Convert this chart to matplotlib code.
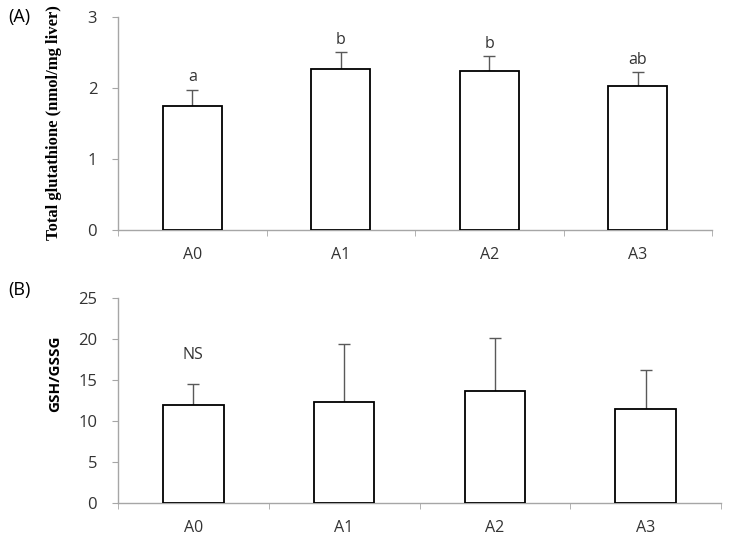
import numpy as np
import matplotlib
matplotlib.use('Agg')
import matplotlib.pyplot as plt
from matplotlib.ticker import FixedLocator

plt.rcParams['font.family'] = ['Open Sans', 'DejaVu Sans']

groups = ['A0', 'A1', 'A2', 'A3']

# Panel A: total glutathione
total_gsh = [1.75, 2.27, 2.24, 2.03]
total_gsh_sd = [0.23, 0.24, 0.21, 0.20]
total_gsh_letters = ['a', 'b', 'b', 'ab']

# Panel B: GSH/GSSG ratio
ratio = [11.9, 12.3, 13.6, 11.5]
ratio_sd = [2.6, 7.1, 6.5, 4.7]

W, H = 729, 543
TEXT = '#333333'
AXIS = '#a6a6a6'


def px_axes(fig, left, right, top, bottom):
    return fig.add_axes([left / W, 1 - bottom / H, (right - left) / W, (bottom - top) / H])


def bar_panel(ax, values, sd, ymax, ystep):
    x = np.arange(len(groups))
    ax.bar(x, values, width=0.40, color='white', edgecolor='black', linewidth=1.3, zorder=3)
    ax.errorbar(x, values, yerr=[np.zeros(len(sd)), sd], fmt='none', ecolor='#595959',
                elinewidth=1.0, capsize=4, capthick=1.0, zorder=2)
    ax.set_xlim(-0.5, len(groups) - 0.5)
    ax.set_ylim(0, ymax)
    ax.set_yticks(np.arange(0, ymax + ystep / 2, ystep))
    ax.set_xticks(x)
    ax.set_xticklabels(groups)
    ax.xaxis.set_minor_locator(FixedLocator(np.arange(-0.5, len(groups), 1.0)))
    ax.tick_params(axis='x', which='major', length=0, pad=12, labelsize=11.5, labelcolor=TEXT)
    ax.tick_params(axis='x', which='minor', length=4, color=AXIS, direction='out')
    ax.tick_params(axis='y', length=4, color=AXIS, pad=11, labelsize=12, labelcolor=TEXT)
    for side in ['top', 'right']:
        ax.spines[side].set_visible(False)
    for side in ['left', 'bottom']:
        ax.spines[side].set_color(AXIS)
        ax.spines[side].set_linewidth(1.0)
    return x


fig = plt.figure(figsize=(W / 100, H / 100), dpi=100)

# (A)
ax1 = px_axes(fig, 118, 712, 17.3, 230)
x = bar_panel(ax1, total_gsh, total_gsh_sd, 3, 1)
for xi, v, s, lab in zip(x, total_gsh, total_gsh_sd, total_gsh_letters):
    ax1.annotate(lab, (xi, v + s), xytext=(0, 3), textcoords='offset points',
                 ha='center', va='bottom', fontsize=11.5, color=TEXT)
ax1.set_ylabel('Total glutathione (nmol/mg liver)', family='Liberation Serif',
               fontweight='bold', fontsize=12, color='black')
ax1.yaxis.set_label_coords(-0.094, 0.505)
fig.text(8 / W, 1 - 17 / H, '(A)', fontsize=13, va='center', ha='left', color='black')

# (B)
ax2 = px_axes(fig, 118, 721, 297.7, 503.3)
x = bar_panel(ax2, ratio, ratio_sd, 25, 5)
ax2.text(x[0], 18, 'NS', ha='center', va='center', fontsize=11.5, color=TEXT)
ax2.set_ylabel('GSH/GSSG', fontweight='bold', fontsize=11, color='black')
ax2.yaxis.set_label_coords(-0.093, 0.63)
fig.text(8 / W, 1 - 290 / H, '(B)', fontsize=13, va='center', ha='left', color='black')

plt.savefig('out.png', dpi=100)
plt.close()
